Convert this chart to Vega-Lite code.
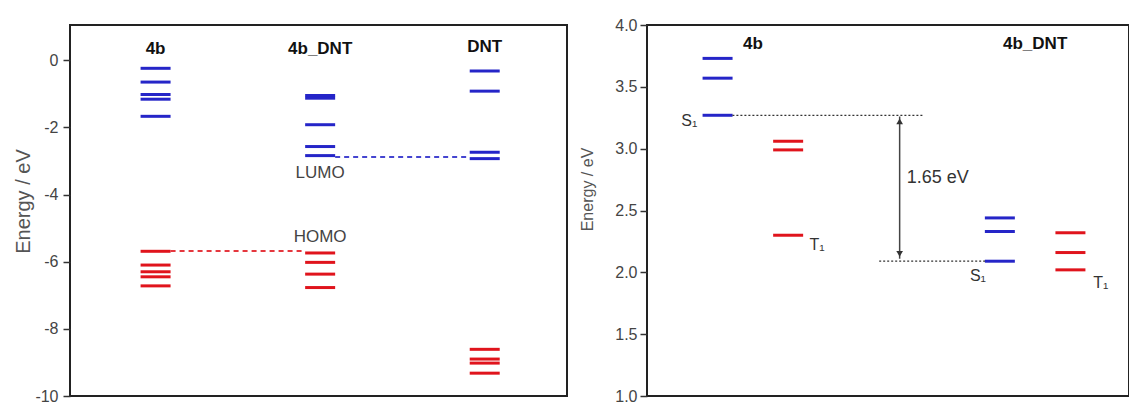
{
  "$schema": "https://vega.github.io/schema/vega-lite/v6.json",
  "background": "white",
  "padding": {"left": 12, "top": 16, "right": 0, "bottom": 0},
  "spacing": 10,
  "config": {
    "font": "Liberation Sans",
    "view": {"stroke": "#222", "strokeWidth": 2},
    "axis": {"domain": false, "grid": false, "ticks": true, "tickColor": "#333", "tickWidth": 1.5, "tickSize": 7, "labelColor": "#444", "labelFont": "Liberation Sans", "titleColor": "#555", "titleFont": "Liberation Sans", "titleFontWeight": "normal"}
  },
  "hconcat": [
    {
      "width": 497,
      "height": 371,
      "layer": [
        {
          "data": {"values": [
            {"molecule": "4b", "col": 1, "energy": -0.24, "orbital": "unoccupied"},
            {"molecule": "4b", "col": 1, "energy": -0.65, "orbital": "unoccupied"},
            {"molecule": "4b", "col": 1, "energy": -1.02, "orbital": "unoccupied"},
            {"molecule": "4b", "col": 1, "energy": -1.16, "orbital": "unoccupied"},
            {"molecule": "4b", "col": 1, "energy": -1.67, "orbital": "unoccupied"},
            {"molecule": "4b", "col": 1, "energy": -5.69, "orbital": "occupied"},
            {"molecule": "4b", "col": 1, "energy": -6.1, "orbital": "occupied"},
            {"molecule": "4b", "col": 1, "energy": -6.3, "orbital": "occupied"},
            {"molecule": "4b", "col": 1, "energy": -6.45, "orbital": "occupied"},
            {"molecule": "4b", "col": 1, "energy": -6.72, "orbital": "occupied"},
            {"molecule": "4b_DNT", "col": 2, "energy": -1.05, "orbital": "unoccupied"},
            {"molecule": "4b_DNT", "col": 2, "energy": -1.13, "orbital": "unoccupied"},
            {"molecule": "4b_DNT", "col": 2, "energy": -1.92, "orbital": "unoccupied"},
            {"molecule": "4b_DNT", "col": 2, "energy": -2.57, "orbital": "unoccupied"},
            {"molecule": "4b_DNT", "col": 2, "energy": -2.84, "orbital": "unoccupied"},
            {"molecule": "4b_DNT", "col": 2, "energy": -5.74, "orbital": "occupied"},
            {"molecule": "4b_DNT", "col": 2, "energy": -6.02, "orbital": "occupied"},
            {"molecule": "4b_DNT", "col": 2, "energy": -6.37, "orbital": "occupied"},
            {"molecule": "4b_DNT", "col": 2, "energy": -6.77, "orbital": "occupied"},
            {"molecule": "DNT", "col": 3, "energy": -0.32, "orbital": "unoccupied"},
            {"molecule": "DNT", "col": 3, "energy": -0.92, "orbital": "unoccupied"},
            {"molecule": "DNT", "col": 3, "energy": -2.74, "orbital": "unoccupied"},
            {"molecule": "DNT", "col": 3, "energy": -2.93, "orbital": "unoccupied"},
            {"molecule": "DNT", "col": 3, "energy": -8.61, "orbital": "occupied"},
            {"molecule": "DNT", "col": 3, "energy": -8.9, "orbital": "occupied"},
            {"molecule": "DNT", "col": 3, "energy": -9.02, "orbital": "occupied"},
            {"molecule": "DNT", "col": 3, "energy": -9.32, "orbital": "occupied"}
          ]},
          "mark": {"type": "rule", "strokeWidth": 3, "xOffset": -15, "x2Offset": 15},
          "encoding": {
            "x": {"field": "col", "type": "quantitative", "scale": {"domain": [0.48, 3.5], "nice": false, "zero": false}, "axis": null},
            "x2": {"field": "col"},
            "y": {"field": "energy", "type": "quantitative", "scale": {"domain": [-10, 1.05], "nice": false, "zero": false},
              "axis": {"title": "Energy / eV", "values": [-10, -9, -8, -7, -6, -5, -4, -3, -2, -1, 0, 1],
                "labelExpr": "datum.value % 2 === 0 ? '' + datum.value : ''", "labelFontSize": 16, "labelPadding": 5,
                "titleFontSize": 20, "titleX": -37, "titleY": 176, "titleAngle": 270, "titleBaseline": "bottom", "titleAlign": "center"}},
            "color": {"field": "orbital", "type": "nominal", "scale": {"domain": ["occupied", "unoccupied"], "range": ["#e0141c", "#2525c8"]}, "legend": null}
          }
        },
        {
          "data": {"values": [
            {"from": 2, "to": 3, "energy": -2.88, "orbital": "unoccupied"},
            {"from": 1, "to": 2, "energy": -5.68, "orbital": "occupied"}
          ]},
          "mark": {"type": "rule", "strokeWidth": 2, "strokeDash": [5, 4], "xOffset": 15, "x2Offset": -15, "opacity": 0.85},
          "encoding": {
            "x": {"field": "from", "type": "quantitative", "scale": {"domain": [0.48, 3.5], "nice": false, "zero": false}},
            "x2": {"field": "to"},
            "y": {"field": "energy", "type": "quantitative", "scale": {"domain": [-10, 1.05], "nice": false, "zero": false}},
            "color": {"field": "orbital", "type": "nominal", "legend": null}
          }
        },
        {
          "data": {"values": [
            {"label": "4b", "col": 1, "energy": 0.33},
            {"label": "4b_DNT", "col": 2, "energy": 0.33},
            {"label": "DNT", "col": 3, "energy": 0.4}
          ]},
          "mark": {"type": "text", "fontWeight": "bold", "fontSize": 17, "color": "#111", "baseline": "middle"},
          "encoding": {
            "x": {"field": "col", "type": "quantitative", "scale": {"domain": [0.48, 3.5], "nice": false, "zero": false}},
            "y": {"field": "energy", "type": "quantitative", "scale": {"domain": [-10, 1.05], "nice": false, "zero": false}},
            "text": {"field": "label"}
          }
        },
        {
          "data": {"values": [
            {"label": "LUMO", "col": 2, "energy": -3.36},
            {"label": "HOMO", "col": 2, "energy": -5.25}
          ]},
          "mark": {"type": "text", "fontSize": 17, "color": "#444", "baseline": "middle"},
          "encoding": {
            "x": {"field": "col", "type": "quantitative", "scale": {"domain": [0.48, 3.5], "nice": false, "zero": false}},
            "y": {"field": "energy", "type": "quantitative", "scale": {"domain": [-10, 1.05], "nice": false, "zero": false}},
            "text": {"field": "label"}
          }
        }
      ]
    },
    {
      "width": 482,
      "height": 371,
      "layer": [
        {
          "data": {"values": [
            {"molecule": "4b", "col": 1, "energy": 3.73, "state": "S"},
            {"molecule": "4b", "col": 1, "energy": 3.57, "state": "S"},
            {"molecule": "4b", "col": 1, "energy": 3.27, "state": "S"},
            {"molecule": "4b", "col": 2, "energy": 3.06, "state": "T"},
            {"molecule": "4b", "col": 2, "energy": 2.99, "state": "T"},
            {"molecule": "4b", "col": 2, "energy": 2.3, "state": "T"},
            {"molecule": "4b_DNT", "col": 5, "energy": 2.44, "state": "S"},
            {"molecule": "4b_DNT", "col": 5, "energy": 2.33, "state": "S"},
            {"molecule": "4b_DNT", "col": 5, "energy": 2.09, "state": "S"},
            {"molecule": "4b_DNT", "col": 6, "energy": 2.32, "state": "T"},
            {"molecule": "4b_DNT", "col": 6, "energy": 2.16, "state": "T"},
            {"molecule": "4b_DNT", "col": 6, "energy": 2.02, "state": "T"}
          ]},
          "mark": {"type": "rule", "strokeWidth": 3, "xOffset": -15, "x2Offset": 15},
          "encoding": {
            "x": {"field": "col", "type": "quantitative", "scale": {"domain": [0, 6.83], "nice": false, "zero": false}, "axis": null},
            "x2": {"field": "col"},
            "y": {"field": "energy", "type": "quantitative", "scale": {"domain": [1, 4], "nice": false, "zero": false},
              "axis": {"title": "Energy / eV", "values": [1, 1.25, 1.5, 1.75, 2, 2.25, 2.5, 2.75, 3, 3.25, 3.5, 3.75, 4],
                "labelExpr": "(datum.value * 2) % 1 === 0 ? format(datum.value, '.1f') : ''", "labelFontSize": 16, "labelPadding": 3,
                "titleFontSize": 16, "titleX": -52, "titleY": 164, "titleAngle": 270, "titleBaseline": "bottom", "titleAlign": "center"}},
            "color": {"field": "state", "type": "nominal", "scale": {"domain": ["T", "S"], "range": ["#e0141c", "#2525c8"]}, "legend": null}
          }
        },
        {
          "data": {"values": [
            {"start": 1.21, "end": 3.92, "energy": 3.27},
            {"start": 3.29, "end": 4.79, "energy": 2.09}
          ]},
          "mark": {"type": "rule", "strokeWidth": 1.2, "strokeDash": [2, 2], "color": "#333"},
          "encoding": {
            "x": {"field": "start", "type": "quantitative", "scale": {"domain": [0, 6.83], "nice": false, "zero": false}},
            "x2": {"field": "end"},
            "y": {"field": "energy", "type": "quantitative", "scale": {"domain": [1, 4], "nice": false, "zero": false}}
          }
        },
        {
          "data": {"values": [{"pos": 3.58, "low": 2.11, "high": 3.26}]},
          "mark": {"type": "rule", "strokeWidth": 1.5, "color": "#444"},
          "encoding": {
            "x": {"field": "pos", "type": "quantitative", "scale": {"domain": [0, 6.83], "nice": false, "zero": false}},
            "y": {"field": "low", "type": "quantitative", "scale": {"domain": [1, 4], "nice": false, "zero": false}},
            "y2": {"field": "high"}
          }
        },
        {
          "data": {"values": [
            {"pos": 3.58, "energy": 3.22, "dir": "up"},
            {"pos": 3.58, "energy": 2.15, "dir": "down"}
          ]},
          "mark": {"type": "point", "filled": true, "size": 45, "color": "#333", "opacity": 1},
          "encoding": {
            "x": {"field": "pos", "type": "quantitative", "scale": {"domain": [0, 6.83], "nice": false, "zero": false}},
            "y": {"field": "energy", "type": "quantitative", "scale": {"domain": [1, 4], "nice": false, "zero": false}},
            "shape": {"field": "dir", "type": "nominal", "scale": {"domain": ["up", "down"], "range": ["triangle-up", "triangle-down"]}, "legend": null}
          }
        },
        {
          "data": {"values": [
            {"label": "4b", "pos": 1.5, "energy": 3.85},
            {"label": "4b_DNT", "pos": 5.5, "energy": 3.85}
          ]},
          "mark": {"type": "text", "fontWeight": "bold", "fontSize": 17, "color": "#111", "baseline": "middle"},
          "encoding": {
            "x": {"field": "pos", "type": "quantitative", "scale": {"domain": [0, 6.83], "nice": false, "zero": false}},
            "y": {"field": "energy", "type": "quantitative", "scale": {"domain": [1, 4], "nice": false, "zero": false}},
            "text": {"field": "label"}
          }
        },
        {
          "data": {"values": [
            {"label": "S₁", "pos": 0.6, "energy": 3.22},
            {"label": "T₁", "pos": 2.41, "energy": 2.22},
            {"label": "S₁", "pos": 4.69, "energy": 1.97},
            {"label": "T₁", "pos": 6.43, "energy": 1.91}
          ]},
          "mark": {"type": "text", "fontSize": 16, "color": "#333", "baseline": "middle"},
          "encoding": {
            "x": {"field": "pos", "type": "quantitative", "scale": {"domain": [0, 6.83], "nice": false, "zero": false}},
            "y": {"field": "energy", "type": "quantitative", "scale": {"domain": [1, 4], "nice": false, "zero": false}},
            "text": {"field": "label"}
          }
        },
        {
          "data": {"values": [{"label": "1.65 eV", "pos": 3.68, "energy": 2.76}]},
          "mark": {"type": "text", "fontSize": 18, "color": "#333", "baseline": "middle", "align": "left"},
          "encoding": {
            "x": {"field": "pos", "type": "quantitative", "scale": {"domain": [0, 6.83], "nice": false, "zero": false}},
            "y": {"field": "energy", "type": "quantitative", "scale": {"domain": [1, 4], "nice": false, "zero": false}},
            "text": {"field": "label"}
          }
        }
      ]
    }
  ]
}
